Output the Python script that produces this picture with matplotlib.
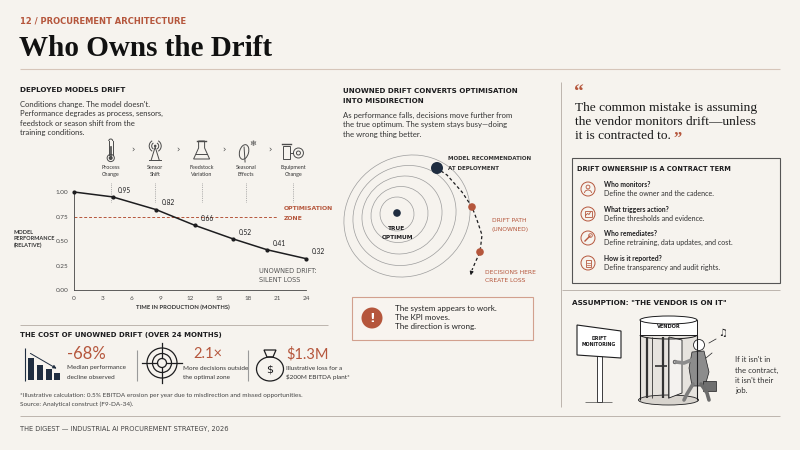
#===============================================================================
import matplotlib
matplotlib.use("Agg")
import matplotlib.pyplot as plt
from matplotlib.patches import Arc, Circle, Ellipse, Polygon, Rectangle

#===============================================================================
# chart data
months = [0, 4, 8.5, 12.5, 16.5, 20, 24]
performance = [1.00, 0.95, 0.82, 0.66, 0.52, 0.41, 0.32]
month_ticks = [0, 3, 6, 9, 12, 15, 18, 21, 24]
performance_ticks = [0.00, 0.25, 0.50, 0.75, 1.00]
optimisation_zone = 0.75

drift_events = ["Process\nChange", "Sensor\nShift", "Feedstock\nVariation",
                "Seasonal\nEffects", "Equipment\nChange"]
event_months = [3.8, 8.4, 13.2, 17.8, 22.7]

cost_values = ["-68%", "2.1×", "$1.3M"]
cost_captions = ["Median performance\ndecline observed",
                 "More decisions outside\nthe optimal zone",
                 "Illustrative loss for a\n$200M EBITDA plant*"]

contract_questions = ["Who monitors?", "What triggers action?",
                      "Who remediates?", "How is it reported?"]
contract_answers = ["Define the owner and the cadence.",
                    "Define thresholds and evidence.",
                    "Define retraining, data updates, and cost.",
                    "Define transparency and audit rights."]

#===============================================================================
BG = "#f6f3ee"
INK = "#1d1d1f"
GREY = "#4a4a4a"
RUST = "#b5563c"
NAVY = "#1f2d40"
RULE = "#d6c5b9"
SANS = ["Lato", "DejaVu Sans"]
HEAD = ["DejaVu Sans"]
SERIF = ["Liberation Serif", "DejaVu Serif"]

fig = plt.figure(figsize=(8, 4.5), dpi=100)
fig.patch.set_facecolor(BG)

ax = fig.add_axes([0, 0, 1, 1])
ax.set_xlim(0, 800)
ax.set_ylim(450, 0)
ax.axis("off")


def lines(x, y0, dy, text, size=5, color=INK, weight="normal", family=SANS, ha="left"):
    out = []
    for i, line in enumerate(text.split("\n")):
        out.append(ax.text(x, y0 + i * dy, line, fontsize=size, color=color, fontweight=weight,
                           family=family, ha=ha, va="center"))
    return out


def rule(x0, x1, y0, y1, color=RULE, lw=0.8):
    ax.plot([x0, x1], [y0, y1], color=color, lw=lw, solid_capstyle="butt")


def month_px(m):
    return 74 + m * 232 / 24

#===============================================================================
# header
lines(20, 21, 0, "12 / PROCUREMENT ARCHITECTURE", size=6, color=RUST, weight="bold", family=HEAD)
lines(19, 48, 0, "Who Owns the Drift", size=21, color="#111111", weight="bold", family=SERIF)
rule(20, 780, 69, 69)
rule(561, 561, 82, 407, color="#bdb5ad", lw=0.7)
rule(20, 328, 325, 325, color="#bdb5ad", lw=0.7)
rule(562, 780, 290, 290, color="#bdb5ad", lw=0.7)
rule(20, 780, 416, 416, color="#bdb5ad", lw=0.7)

#===============================================================================
# left: deployed models drift
lines(20, 90, 0, "DEPLOYED MODELS DRIFT", size=5.2, weight="bold", family=HEAD)
lines(20, 104, 9.6, "Conditions change. The model doesn't.\nPerformance degrades as process, sensors,\n"
      "feedstock or season shift from the\ntraining conditions.", size=5.5, color="#333333")

# drift event icons
icon_kw = dict(color=GREY, lw=0.7)
for i, (label, m) in enumerate(zip(drift_events, event_months)):
    x, y = month_px(m), 151
    if i == 0:
        ax.plot([x - 2, x - 2], [y - 10, y + 4], **icon_kw)
        ax.plot([x + 2, x + 2], [y - 10, y + 4], **icon_kw)
        ax.add_patch(Arc((x, y - 10), 4, 4, theta1=180, theta2=360, **icon_kw))
        ax.add_patch(Circle((x, y + 7), 3.6, fc="none", ec=GREY, lw=0.7))
        ax.add_patch(Circle((x, y + 7), 2, fc=GREY, ec="none"))
        ax.plot([x, x], [y - 4, y + 5], color=GREY, lw=1.2)
    elif i == 1:
        for w in (7, 12):
            ax.add_patch(Arc((x, y - 5), w, w, theta1=120, theta2=240, **icon_kw))
            ax.add_patch(Arc((x, y - 5), w, w, theta1=-60, theta2=60, **icon_kw))
        ax.add_patch(Circle((x, y - 5), 1.3, fc=GREY, ec="none"))
        ax.plot([x - 4, x, x + 4], [y + 9, y - 4, y + 9], **icon_kw)
        ax.plot([x - 6, x + 6], [y + 9, y + 9], **icon_kw)
    elif i == 2:
        ax.add_patch(Polygon([(x - 3, y - 10), (x + 3, y - 10), (x + 3, y - 3), (x + 8, y + 8),
                              (x - 8, y + 8), (x - 3, y - 3)], closed=True, fc="none", ec=GREY, lw=0.7))
        ax.plot([x - 5.5, x + 5.5], [y + 3, y + 3], **icon_kw)
        ax.plot([x - 4.5, x + 4.5], [y - 10, y - 10], color=GREY, lw=1)
    elif i == 3:
        ax.add_patch(Ellipse((x - 2, y + 1), 9, 15, angle=15, fc="none", ec=GREY, lw=0.7))
        ax.plot([x - 2, x - 1], [y - 4, y + 11], **icon_kw)
        ax.text(x + 7, y - 7, "❄", fontsize=6, color=GREY, ha="center", va="center", family=HEAD)
    else:
        ax.add_patch(Rectangle((x - 10, y - 5), 7, 13, fc="none", ec=GREY, lw=0.7))
        ax.plot([x - 11, x - 2], [y - 7, y - 7], color=GREY, lw=1)
        ax.add_patch(Circle((x + 5, y + 2), 5, fc="none", ec=GREY, lw=0.7))
        ax.add_patch(Circle((x + 5, y + 2), 2, fc="none", ec=GREY, lw=0.7))
        ax.plot([x - 3, x], [y + 2, y + 2], **icon_kw)
    lines(x, 167.7, 6.7, label, size=3.9, color="#333333", ha="center")
    ax.plot([x, x], [183, 202], color="#9a9a9a", lw=0.6, ls=(0, (1, 1.2)))
    if i < 4:
        nx = month_px(event_months[i + 1])
        ax.text((x + nx) / 2, 150.5, "›", fontsize=6, color=GREY, ha="center", va="center", family=HEAD)

# performance line chart
cx = fig.add_axes([74 / 800, 1 - 290 / 450, 232 / 800, 98 / 450])
cx.set_facecolor("none")
cx.plot(months, performance, color=INK, lw=1.1, marker="o", ms=2, zorder=3, clip_on=False)
cx.plot([0, 21], [optimisation_zone, optimisation_zone], color=RUST, lw=0.7, ls=(0, (3, 2)))
for m, p in zip(months[1:], performance[1:]):
    cx.annotate(f"{p:.2f}", (m, p), xytext=(4, 3), textcoords="offset points",
                fontsize=4.8, color=INK, family=SANS)
cx.set_xlim(0, 24)
cx.set_ylim(0, 1.0)
cx.set_xticks(month_ticks)
cx.set_xticklabels([str(t) for t in month_ticks])
cx.set_yticks(performance_ticks)
cx.set_yticklabels([f"{t:.2f}" for t in performance_ticks])
cx.tick_params(length=0, labelsize=4.6, colors=GREY, pad=4)
for lab in cx.get_xticklabels() + cx.get_yticklabels():
    lab.set_family(SANS)
for side in ("top", "right"):
    cx.spines[side].set_visible(False)
for side in ("left", "bottom"):
    cx.spines[side].set_color("#444444")
    cx.spines[side].set_linewidth(0.6)

lines(14, 232, 6.7, "MODEL\nPERFORMANCE\n(RELATIVE)", size=4, color="#333333", weight="bold")
lines(183, 307, 0, "TIME IN PRODUCTION (MONTHS)", size=4.2, color="#333333", weight="bold", ha="center")
lines(284, 209, 9, "OPTIMISATION\nZONE", size=4.4, color=RUST, weight="bold", family=HEAD)
lines(259, 271, 8.5, "UNOWNED DRIFT:\nSILENT LOSS", size=4.7, color="#555555", family=HEAD)

#===============================================================================
# left: cost of unowned drift
lines(20, 335, 0, "THE COST OF UNOWNED DRIFT (OVER 24 MONTHS)", size=5.05, weight="bold", family=HEAD)

# bar icon
rule(25, 25, 348, 381, color=NAVY, lw=0.8)
for bx, bh in zip([28, 37, 46, 54], [22, 15, 11, 7]):
    ax.add_patch(Rectangle((bx, 380 - bh), 6, bh, fc=NAVY, ec="none"))
ax.annotate("", xy=(59, 370), xytext=(28, 352),
            arrowprops=dict(arrowstyle="-|>", color=NAVY, lw=0.7, mutation_scale=5))

# target icon
for r in (15, 9.5, 4.5):
    ax.add_patch(Circle((162, 363), r, fc="none", ec=INK, lw=0.9))
for dx, dy in ((1, 0), (-1, 0), (0, 1), (0, -1)):
    ax.plot([162 + 5 * dx, 162 + 20 * dx], [363 + 5 * dy, 363 + 20 * dy], color=INK, lw=0.9)

# money bag icon
ax.add_patch(Ellipse((270, 369), 27, 24, fc="none", ec=INK, lw=0.9))
ax.add_patch(Polygon([(264, 350), (276, 350), (273, 357), (267, 357)], closed=True, fc="none", ec=INK, lw=0.9))
ax.text(270, 370, "$", fontsize=8, color=INK, ha="center", va="center", family=HEAD)

for sx, tx, value, caption in zip([67, 193, 286], [67, 183, 286], cost_values, cost_captions):
    ax.text(sx, 354, value, fontsize=12 if value == "-68%" else 10.5, color=RUST,
            family=SANS, ha="left", va="center")
    lines(tx, 368, 9.4, caption, size=4.6, color="#333333")
rule(137, 137, 350, 381, color="#9a9a9a", lw=0.8)
rule(248, 248, 350, 381, color="#9a9a9a", lw=0.8)

lines(20, 395, 9.3, "*Illustrative calculation: 0.5% EBITDA erosion per year due to misdirection and missed opportunities.\n"
      "Source: Analytical construct (F9-DA-34).", size=4.6, color="#444444")
lines(20, 429, 0, "THE DIGEST — INDUSTRIAL AI PROCUREMENT STRATEGY, 2026", size=4.75, color="#444444", family=HEAD)

#===============================================================================
# middle: misdirection diagram
lines(343, 91, 10, "UNOWNED DRIFT CONVERTS OPTIMISATION\nINTO MISDIRECTION", size=5.1, weight="bold", family=HEAD)
lines(343, 115, 10, "As performance falls, decisions move further from\nthe true optimum. The system stays busy—doing\n"
      "the wrong thing better.", size=5.6, color="#333333")

for i in range(5):
    ax.add_patch(Ellipse((397 + 2.5 * i, 214 + 0.5 * i), 34 + 24 * i, 34 + 21 * i, angle=-35,
                         fc="none", ec="#9c9c9c", lw=0.5))
ax.add_patch(Circle((397, 213), 3.8, fc=NAVY, ec="none", zorder=3))
lines(397, 229, 8.5, "TRUE\nOPTIMUM", size=4.2, weight="bold", family=HEAD, ha="center")

path_x = [441, 447, 462, 472, 477, 482, 480, 475, 472]
path_y = [171, 175, 192, 207, 220, 235, 252, 263, 270]
ax.plot(path_x, path_y, color=INK, lw=0.9, ls=(0, (2.5, 2)))
ax.annotate("", xy=(470, 278), xytext=(472, 270),
            arrowprops=dict(arrowstyle="-|>", color=INK, lw=0.8, mutation_scale=5))
ax.add_patch(Circle((437, 168), 6, fc=NAVY, ec="none", zorder=3))
ax.add_patch(Circle((472, 207), 3.8, fc=RUST, ec="none", zorder=3))
ax.add_patch(Circle((480, 252), 3.8, fc=RUST, ec="none", zorder=3))
lines(448, 159, 9, "MODEL RECOMMENDATION\nAT DEPLOYMENT", size=4.0, color="#333333", weight="bold", family=HEAD)
lines(492, 220, 9, "DRIFT PATH\n(UNOWNED)", size=4.3, color=RUST, family=HEAD)
lines(485, 272, 9, "DECISIONS HERE\nCREATE LOSS", size=4.3, color=RUST, family=HEAD)

# alert box
ax.add_patch(Rectangle((351.5, 296.5), 181, 43.5, fc="#f8f4ef", ec="#d2a08e", lw=0.8))
ax.add_patch(Circle((372, 318), 10.5, fc=RUST, ec="none"))
ax.text(372, 318.5, "!", fontsize=9, color="white", fontweight="bold", ha="center", va="center", family=HEAD)
lines(395, 308.3, 9.2, "The system appears to work.\nThe KPI moves.\nThe direction is wrong.", size=5.8, color="#222222")

#===============================================================================
# right: quote and contract terms
ax.text(574, 93, "“", fontsize=14, color=RUST, fontweight="bold", family=SERIF, ha="left", va="center")
quote = lines(575, 108.3, 14, "The common mistake is assuming\nthe vendor monitors drift—unless\nit is contracted to.",
              size=9.6, color="#1a1a1a", family=SERIF)
ax.annotate("”", xy=(1, 0.5), xycoords=quote[-1], xytext=(2, -1.5), textcoords="offset points",
            fontsize=12, color=RUST, fontweight="bold", family=SERIF, ha="left", va="center")

ax.add_patch(Rectangle((572, 158), 208, 125, fc="none", ec="#555555", lw=0.8))
lines(577, 169, 0, "DRIFT OWNERSHIP IS A CONTRACT TERM", size=4.75, weight="bold", family=HEAD)
icon_y = [189, 214, 238, 263]
for i, (q, a, y) in enumerate(zip(contract_questions, contract_answers, icon_y)):
    x = 588
    ax.add_patch(Circle((x, y), 7, fc="none", ec=RUST, lw=0.7))
    if i == 0:
        ax.add_patch(Circle((x, y - 2), 1.9, fc="none", ec=RUST, lw=0.6))
        ax.add_patch(Arc((x, y + 4), 7, 6, theta1=180, theta2=360, color=RUST, lw=0.6))
    elif i == 1:
        ax.add_patch(Rectangle((x - 3.5, y - 3), 7, 6, fc="none", ec=RUST, lw=0.6))
        ax.plot([x - 2.5, x - 0.5, x + 1, x + 2.5], [y + 1.5, y - 0.5, y + 0.5, y - 2], color=RUST, lw=0.6)
    elif i == 2:
        ax.plot([x - 3, x + 2], [y + 3, y - 2], color=RUST, lw=1)
        ax.add_patch(Circle((x + 2.5, y - 2.5), 1.8, fc="none", ec=RUST, lw=0.6))
    else:
        ax.add_patch(Rectangle((x - 2.5, y - 3.5), 5, 7, fc="none", ec=RUST, lw=0.6))
        ax.plot([x - 1.5, x + 1.5], [y - 0.5, y - 0.5], color=RUST, lw=0.5)
        ax.plot([x - 1.5, x + 1.5], [y + 1.5, y + 1.5], color=RUST, lw=0.5)
    lines(604, y - 4.5, 0, q, size=4.9, weight="bold")
    lines(604, y + 4.3, 0, a, size=5.1, color="#333333")

#===============================================================================
# right: assumption illustration
lines(572, 303, 0, "ASSUMPTION: \"THE VENDOR IS ON IT\"", size=5.2, weight="bold", family=HEAD)

# sign
ax.add_patch(Rectangle((596.5, 356), 5, 46, fc="white", ec=INK, lw=0.6))
ax.add_patch(Polygon([(577, 325), (621, 331), (621, 358), (577, 355)], closed=True, fc="white", ec=INK, lw=0.8))
lines(599, 338, 7, "DRIFT\nMONITORING", size=3.4, weight="bold", family=HEAD, ha="center")
rule(585, 612, 402, 402, color=GREY, lw=0.5)

# revolving door
ax.add_patch(Rectangle((640, 335), 57, 65, fc="#e6e3de", ec="none"))
ax.add_patch(Ellipse((668.5, 400), 60, 10, fc="#d8d4ce", ec=INK, lw=0.6))
for dx in (640, 697):
    rule(dx, dx, 335, 400, color=INK, lw=0.8)
for dx, lw in ((647, 1.6), (652, 0.6), (663, 1.6), (668, 0.6)):
    rule(dx, dx, 337, 398, color="#333333", lw=lw)
ax.add_patch(Polygon([(669, 337), (682, 340), (682, 393), (669, 398)], closed=True, fc="#f4f2ef", ec=INK, lw=0.6))
rule(655, 667, 366, 366, color="#333333", lw=1.2)
ax.add_patch(Rectangle((640, 320), 57, 15, fc="white", ec=INK, lw=0.7))
ax.add_patch(Ellipse((668.5, 320), 57, 8, fc="white", ec=INK, lw=0.7))
ax.add_patch(Arc((668.5, 335), 57, 8, theta1=0, theta2=180, color=INK, lw=0.7))
lines(668.5, 326, 0, "VENDOR", size=3.6, weight="bold", family=HEAD, ha="center")

# walking man
ax.plot([693, 687, 684], [384, 394, 400], color="#7c7c7c", lw=2.6, solid_capstyle="round")
ax.plot([701, 707, 709], [384, 393, 400], color="#6c6c6c", lw=2.6, solid_capstyle="round")
ax.add_patch(Polygon([(692, 352), (704, 351), (709, 372), (705, 386), (692, 386), (689, 368)],
                     closed=True, fc="#8c8c8c", ec=INK, lw=0.5))
ax.plot([694, 684, 676], [359, 363, 362], color="#8c8c8c", lw=2.6, solid_capstyle="round")
ax.add_patch(Circle((675, 362), 1.8, fc="white", ec=INK, lw=0.5))
ax.add_patch(Circle((699, 345), 5.5, fc="white", ec=INK, lw=0.6))
ax.add_patch(Rectangle((703, 381), 13, 10, fc="#6f6f6f", ec=INK, lw=0.5))
ax.plot([706, 712], [358, 353], color=INK, lw=0.5)
ax.text(723, 333, "♫", fontsize=7, color=INK, ha="center", va="center", family=HEAD)
ax.plot([709, 716], [343, 339], color=INK, lw=0.5)

lines(735, 360, 10.2, "If it isn't in\nthe contract,\nit isn't their\njob.", size=5.6, color="#333333")

fig.savefig("out.png", dpi=100, facecolor=BG)
